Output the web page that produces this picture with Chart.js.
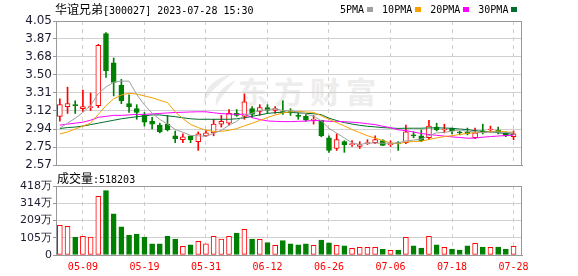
<!DOCTYPE html>
<html>
<head>
<meta charset="utf-8">
<script src="https://cdn.jsdelivr.net/npm/chart.js@4.4.0/dist/chart.umd.min.js"></script>
<style>
  body { margin: 0; background: #fff; width: 578px; height: 276px; position: relative; overflow: hidden; }
  canvas { position: absolute; left: 0; top: 0; }
  .txt { position: absolute; white-space: nowrap; font-size: 12px; line-height: 14px; color: #000; }
  .cjk { font-family: "Noto Sans CJK SC", sans-serif; font-size: 12px; }
  .mono { font-family: "DejaVu Sans Mono", monospace; font-size: 10px; }
  .mark { position: absolute; left: 238px; top: 68px; font-family: "Noto Sans CJK SC", sans-serif;
          font-size: 30px; font-weight: bold; letter-spacing: 6px; color: #ededed; }
  .leaf { position: absolute; left: 0; top: 0; }
  #legend span.sq { display: inline-block; width: 6px; height: 5px; margin: 0 9px 1px 3px; }
</style>
</head>
<body>
<svg class="leaf" width="578" height="276">
  <path d="M232 74 C214 78 202 90 204 104 C208 94 216 86 232 74 Z" fill="#ececec"/>
  <path d="M236 80 C222 86 214 96 216 106 C220 98 226 92 236 80 Z" fill="#ececec"/>
</svg>
<div class="mark">东方财富</div>
<canvas id="price" width="578" height="276"></canvas>
<canvas id="vol" width="578" height="276"></canvas>
<div class="txt" style="left:55px;top:2px"><span class="cjk">华谊兄弟</span><span class="mono">[300027] 2023-07-28 15:30</span></div>
<div class="txt" id="legend" style="left:340px;top:2px"></div>
<div class="txt" id="volTitle" style="left:57px;top:171px"></div>
<script>
// trading days shown
const dates = ['05-04','05-05','05-08','05-09','05-10','05-11','05-12','05-15','05-16','05-17',
  '05-18','05-19','05-22','05-23','05-24','05-25','05-26','05-29','05-30','05-31',
  '06-01','06-02','06-05','06-06','06-07','06-08','06-09','06-12','06-13','06-14',
  '06-15','06-16','06-19','06-20','06-21','06-26','06-27','06-28','06-29','06-30',
  '07-03','07-04','07-05','07-06','07-07','07-10','07-11','07-12','07-13','07-14',
  '07-17','07-18','07-19','07-20','07-21','07-24','07-25','07-26','07-27','07-28'];
const tickDates = ['05-09','05-19','05-31','06-12','06-26','07-06','07-18','07-28'];

const open = [3.07,3.17,3.19,3.15,3.16,3.18,3.92,3.62,3.39,3.20,
  3.15,3.08,3.02,2.98,2.99,2.87,2.83,2.87,2.81,2.87,
  2.90,2.99,3.00,3.10,3.07,3.15,3.12,3.16,3.13,3.12,
  3.12,3.08,3.07,3.03,3.03,2.85,2.74,2.81,2.78,2.76,
  2.79,2.80,2.82,2.78,2.80,2.80,2.88,2.87,2.85,2.96,
  2.93,2.95,2.91,2.91,2.85,2.92,2.93,2.93,2.90,2.86];
const high = [3.25,3.37,3.23,3.34,3.31,3.81,3.93,3.67,3.45,3.29,
  3.19,3.11,3.06,3.00,3.08,2.92,2.89,2.87,2.91,2.93,
  3.04,3.08,3.14,3.14,3.30,3.17,3.19,3.19,3.17,3.23,
  3.15,3.11,3.09,3.08,3.03,2.87,2.89,2.82,2.82,2.81,
  2.83,2.87,2.83,2.82,2.81,2.98,2.91,2.93,3.03,3.00,
  2.99,2.95,2.92,2.95,2.95,2.99,2.97,2.96,2.91,2.92];
const low = [3.02,3.10,3.10,3.12,3.13,3.16,3.47,3.28,3.20,3.11,
  3.04,2.97,2.94,2.90,2.92,2.80,2.80,2.80,2.72,2.86,
  2.87,2.96,2.98,3.07,3.04,3.06,3.08,3.10,3.10,3.09,
  3.08,3.04,3.02,2.99,2.86,2.70,2.72,2.70,2.76,2.74,
  2.78,2.79,2.77,2.76,2.72,2.79,2.85,2.81,2.83,2.92,
  2.90,2.89,2.88,2.88,2.84,2.89,2.91,2.89,2.86,2.83];
const close = [3.19,3.20,3.18,3.17,3.17,3.80,3.54,3.42,3.23,3.17,
  3.11,3.01,2.99,2.91,2.93,2.84,2.86,2.83,2.89,2.90,
  2.99,3.02,3.10,3.08,3.22,3.09,3.16,3.13,3.15,3.11,
  3.11,3.07,3.03,3.04,2.87,2.72,2.83,2.78,2.79,2.78,
  2.80,2.83,2.77,2.79,2.79,2.91,2.87,2.82,2.97,2.93,
  2.94,2.92,2.90,2.89,2.90,2.91,2.94,2.90,2.87,2.89];

// volume, in 万
const volume = [180,174,107,113,109,356,390,250,170,121,
  127,109,67,67,113,97,53,61,83,67,
  113,97,113,133,156,97,95,75,59,87,
  67,61,67,59,91,73,59,55,40,46,
  46,46,34,28,30,107,55,42,113,61,
  46,36,30,55,71,48,46,48,36,51.82];
const lastVolume = 518203;

const ma5 = [2.95,3.00,3.05,3.11,3.182,3.304,3.372,3.42,3.432,3.432,
  3.294,3.188,3.102,3.038,2.99,2.936,2.906,2.874,2.87,2.864,
  2.894,2.926,2.98,3.018,3.082,3.102,3.13,3.136,3.15,3.128,
  3.132,3.114,3.094,3.072,3.024,2.946,2.898,2.848,2.798,2.78,
  2.796,2.796,2.794,2.794,2.796,2.818,2.826,2.836,2.872,2.90,
  2.906,2.916,2.932,2.916,2.91,2.904,2.908,2.908,2.904,2.902];
const ma10 = [2.89,2.91,2.94,2.97,3.00,3.09,3.18,3.25,3.29,3.307,
  3.299,3.28,3.261,3.235,3.211,3.115,3.047,2.988,2.954,2.927,
  2.915,2.916,2.927,2.944,2.973,2.998,3.028,3.058,3.084,3.105,
  3.117,3.122,3.115,3.111,3.076,3.039,3.006,2.971,2.935,2.902,
  2.871,2.847,2.821,2.796,2.788,2.807,2.811,2.815,2.833,2.848,
  2.862,2.871,2.884,2.894,2.905,2.905,2.912,2.92,2.91,2.906];
const ma20 = [2.98,2.99,3.00,3.01,3.03,3.06,3.07,3.08,3.08,3.085,
  3.09,3.09,3.095,3.10,3.105,3.11,3.112,3.115,3.117,3.117,
  3.107,3.098,3.094,3.09,3.092,3.057,3.038,3.023,3.019,3.016,
  3.016,3.019,3.021,3.028,3.025,3.019,3.017,3.015,3.01,3.004,
  2.994,2.985,2.968,2.954,2.932,2.923,2.909,2.893,2.884,2.875,
  2.867,2.859,2.853,2.845,2.847,2.856,2.862,2.868,2.872,2.877];
const ma30 = [2.945,2.955,2.96,2.97,2.985,3.0,3.015,3.03,3.045,3.056,
  3.066,3.075,3.085,3.085,3.075,3.067,3.055,3.045,3.04,3.04,
  3.04,3.04,3.04,3.045,3.055,3.07,3.085,3.10,3.108,3.113,
  3.11,3.106,3.101,3.097,3.087,3.051,3.027,3.006,2.991,2.978,
  2.968,2.962,2.954,2.95,2.946,2.948,2.948,2.948,2.951,2.952,
  2.95,2.947,2.94,2.934,2.923,2.917,2.91,2.902,2.893,2.885];

const priceTicks = [2.57,2.755,2.94,3.125,3.31,3.495,3.68,3.865,4.05];
const priceLabels = ['2.57','2.75','2.94','3.12','3.31','3.50','3.68','3.87','4.05'];
const volTicks = [0,104.5,209,313.5,418];
const volLabels = ['0','105万','209万','314万','418万'];
const maNames = ['5PMA','10PMA','20PMA','30PMA'];

const UP = '#ff0000';
const DOWN = '#008000';
const MA_COLORS = ['#a0a0a0', '#f5a000', '#ff00ff', '#006e2e'];
const GRID = '#d0d0d0';
const EDGE = '#999999';

function isUp(i) {
  return close[i] >= open[i];
}

function points(arr) {
  return arr.map((v, i) => ({x: i, y: v}));
}

// outline of the plotting area
const frame = {
  id: 'frame',
  afterDraw(chart) {
    const {ctx, chartArea: a} = chart;
    ctx.save();
    ctx.strokeStyle = EDGE;
    ctx.lineWidth = 1;
    ctx.strokeRect(Math.round(a.left) + 0.5, Math.round(a.top) + 0.5,
      Math.round(a.right - a.left) - 1, Math.round(a.bottom - a.top));
    ctx.restore();
  }
};

function xAxis(showLabels) {
  return {
    type: 'linear',
    min: -0.5,
    max: 60.1,
    offset: false,
    afterBuildTicks: s => { s.ticks = tickDates.map(d => ({value: dates.indexOf(d)})); },
    afterFit: s => { s.height = showLabels ? 21 : 0; },
    grid: {color: GRID, drawTicks: false, offset: false},
    border: {color: EDGE, dash: [4, 4]},
    ticks: {
      display: showLabels,
      autoSkip: false,
      maxRotation: 0,
      padding: 6,
      color: UP,
      font: {family: 'DejaVu Sans Mono', size: 10},
      callback: v => dates[v]
    }
  };
}

function yAxis(min, max, values, labels, fontSize) {
  return {
    min: min,
    max: max,
    afterBuildTicks: s => { s.ticks = values.map(v => ({value: v})); },
    afterFit: s => { s.width = 56; },
    grid: {color: GRID, tickLength: 3, tickColor: EDGE},
    border: {color: EDGE},
    ticks: {
      padding: 1,
      color: '#1c1c30',
      font: {family: 'DejaVu Sans', size: fontSize},
      callback: (v, i) => labels[i]
    }
  };
}

const baseOptions = {
  responsive: false,
  animation: false,
  devicePixelRatio: 1,
  plugins: {legend: {display: false}, tooltip: {enabled: false}}
};

const maSets = [ma5, ma10, ma20, ma30].map((arr, k) => ({
  type: 'line',
  label: maNames[k],
  data: points(arr),
  borderColor: MA_COLORS[k],
  borderWidth: 1,
  pointRadius: 0,
  tension: 0,
  order: 0
}));

new Chart(document.getElementById('price'), {
  type: 'bar',
  data: {
    datasets: [
      ...maSets,
      {
        label: 'body',
        data: close.map((c, i) => ({x: i, y: [open[i], c]})),
        backgroundColor: close.map((c, i) => isUp(i) ? '#ffffff' : DOWN),
        borderColor: close.map((c, i) => isUp(i) ? UP : DOWN),
        borderWidth: 1,
        borderSkipped: false,
        barThickness: 5,
        minBarLength: 1,
        grouped: false,
        order: 1
      },
      {
        label: 'wick',
        data: high.map((h, i) => ({x: i, y: [low[i], h]})),
        backgroundColor: close.map((c, i) => isUp(i) ? UP : DOWN),
        barThickness: 1,
        grouped: false,
        order: 2
      }
    ]
  },
  options: {
    ...baseOptions,
    layout: {padding: {top: 21, right: 56, bottom: 111, left: 0}},
    scales: {
      x: xAxis(false),
      y: yAxis(2.57, 4.05, priceTicks, priceLabels, 12)
    }
  },
  plugins: [frame]
});

new Chart(document.getElementById('vol'), {
  type: 'bar',
  data: {
    datasets: [{
      label: 'volume',
      data: points(volume),
      backgroundColor: volume.map((v, i) => isUp(i) ? '#ffffff' : DOWN),
      borderColor: volume.map((v, i) => isUp(i) ? UP : DOWN),
      borderWidth: 1,
      borderSkipped: false,
      barThickness: 5,
      grouped: false
    }]
  },
  options: {
    ...baseOptions,
    layout: {padding: {top: 186, right: 56, bottom: 0, left: 0}},
    scales: {
      x: xAxis(true),
      y: yAxis(0, 418, volTicks, volLabels, 11)
    }
  },
  plugins: [frame]
});

// header texts
document.getElementById('legend').innerHTML = maNames.map((n, k) =>
  `<span class="mono">${n}</span><span class="sq" style="background:${MA_COLORS[k]}"></span>`).join('');
document.getElementById('volTitle').innerHTML =
  `<span class="cjk">成交量</span><span class="mono">:${lastVolume}</span>`;
</script>
</body>
</html>
